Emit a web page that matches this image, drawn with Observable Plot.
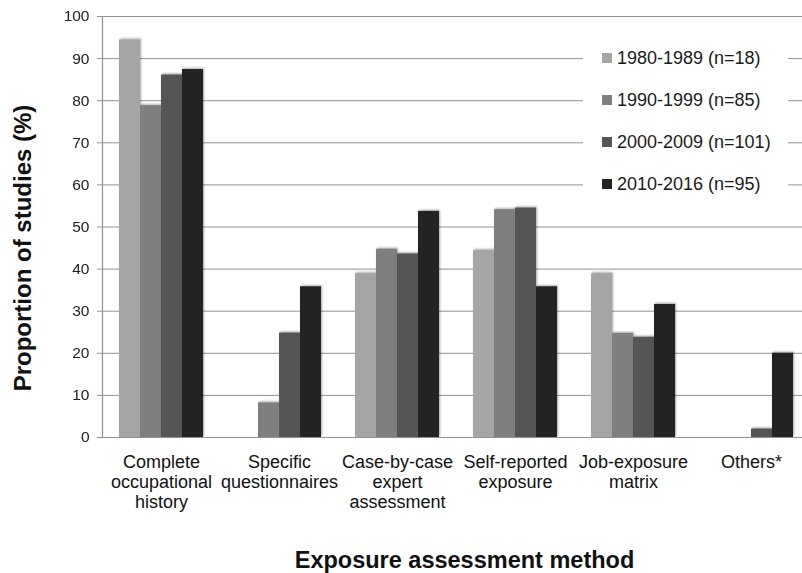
<!DOCTYPE html>
<html>
<head>
<meta charset="utf-8">
<script src="https://cdn.jsdelivr.net/npm/d3@7"></script>
<script src="https://cdn.jsdelivr.net/npm/@observablehq/plot@0.6"></script>
<style>
  body { margin: 0; background: #fff; font-family: "Liberation Sans", Arial, sans-serif; }
  #wrap { position: relative; width: 802px; height: 573px; overflow: hidden; }
  #legend { position: absolute; left: 583px; top: 34px; width: 205px; height: 172px; background: #fff; }
  .row { position: absolute; left: 0; height: 22px; display: flex; align-items: center; font-size: 18px; color: #1a1a1a; white-space: nowrap; }
  .sw { width: 10px; height: 10px; margin-left: 19px; margin-right: 5px; }
</style>
</head>
<body>
<div id="wrap"></div>
<script>
const categories = [
  "Complete\noccupational\nhistory",
  "Specific\nquestionnaires",
  "Case-by-case\nexpert\nassessment",
  "Self-reported\nexposure",
  "Job-exposure\nmatrix",
  "Others*"
];
const periods = ["1980-1989 (n=18)", "1990-1999 (n=85)", "2000-2009 (n=101)", "2010-2016 (n=95)"];
const v1980 = [94.4, 0, 38.9, 44.4, 38.9, 0];
const v1990 = [78.8, 8.2, 44.7, 54.1, 24.7, 0];
const v2000 = [86.1, 24.8, 43.6, 54.5, 23.8, 2.0];
const v2010 = [87.4, 35.8, 53.7, 35.8, 31.6, 20.0];
const colors = ["#a5a5a5", "#7f7f7f", "#555555", "#232323"];
const yTicks = [0, 10, 20, 30, 40, 50, 60, 70, 80, 90, 100];
const yTitle = "Proportion of studies (%)";
const xTitle = "Exposure assessment method";

const series = [v1980, v1990, v2000, v2010];
const rows = [];
categories.forEach((c, i) => periods.forEach((p, j) => rows.push({category: c, period: p, value: series[j][i]})));

const font = '"Liberation Sans", Arial, sans-serif';
const grid = "#929292";

const plot = Plot.plot({
  width: 802,
  height: 573,
  marginLeft: 101,
  marginRight: 0,
  marginTop: 16,
  marginBottom: 136,
  style: {fontFamily: font, background: "#fff", color: "#111", overflow: "hidden"},
  fx: {domain: categories, range: [101, 810], padding: 0, axis: null, label: null},
  x: {domain: periods, paddingInner: 0, paddingOuter: 0.73, axis: null},
  y: {domain: [0, 100], axis: null},
  color: {domain: periods, range: colors},
  marks: [
    Plot.ruleY(yTicks.slice(1), {stroke: grid, strokeWidth: 1}),
    Plot.barY(rows, {fx: "category", x: "period", y: "value", fill: "period"}),
    Plot.ruleY([0], {stroke: grid, strokeWidth: 1.2}),
    Plot.frame({anchor: "left", facet: "super", stroke: grid, strokeWidth: 1.2}),
    Plot.axisY({ticks: yTicks, tickSize: 5, tickPadding: 8, fontSize: 15.5, stroke: grid, fill: "#222", label: null}),
    Plot.axisFx({anchor: "bottom", tickSize: 0, tickPadding: 16, fontSize: 18, lineHeight: 1.11, fill: "#111", label: null}),
    Plot.text([yTitle], {facet: "super", frameAnchor: "left", textAnchor: "middle", lineAnchor: "middle", rotate: -90, dx: -79, dy: 21, fontSize: 24, fontWeight: "bold", fill: "#111"}),
    Plot.text([xTitle], {facet: "super", frameAnchor: "bottom", textAnchor: "middle", lineAnchor: "middle", dx: 8, dy: 123, fontSize: 23.5, fontWeight: "bold", fill: "#111"})
  ]
});

// subtle shadow like the original's bars
plot.querySelectorAll('g[aria-label="bar"]').forEach(g => {
  g.style.filter = "drop-shadow(1px -0.5px 0.8px rgba(0,0,0,0.35))";
});

const wrap = document.getElementById("wrap");
wrap.appendChild(plot);

const yScale = plot.scale("y");
const legend = document.createElement("div");
legend.id = "legend";
wrap.appendChild(legend);
const legendTop = 34;
periods.forEach((p, j) => {
  const row = document.createElement("div");
  row.className = "row";
  const cy = yScale.apply(90 - 10 * j) - legendTop;
  row.style.top = (cy - 11) + "px";
  const sw = document.createElement("span");
  sw.className = "sw";
  sw.style.background = colors[j];
  const t = document.createElement("span");
  t.textContent = p;
  row.appendChild(sw);
  row.appendChild(t);
  legend.appendChild(row);
});
</script>
</body>
</html>
